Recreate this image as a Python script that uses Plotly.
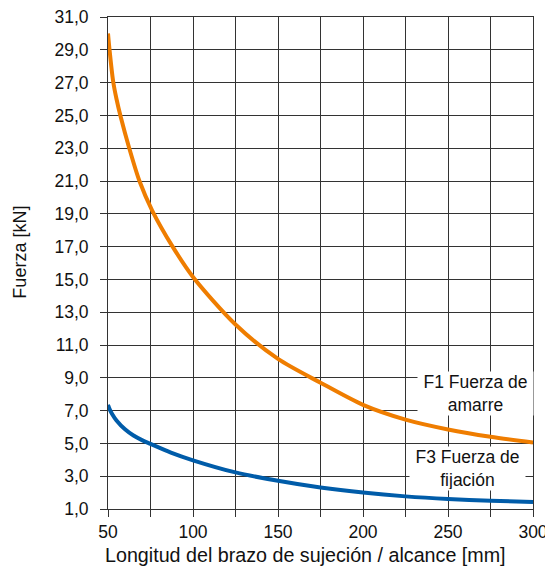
import plotly.graph_objects as go

# --- data ---
f1_x = [50, 51, 53, 55, 57.5, 62.5, 68.5, 76, 88, 100, 125, 150, 175, 200, 225, 250, 275, 300]
f1_y = [30.0, 28.9, 27.1, 26.0, 24.9, 23.0, 21.0, 19.2, 17.0, 15.15, 12.25, 10.15, 8.7, 7.35, 6.45, 5.85, 5.4, 5.05]

f3_x = [50, 51, 52.5, 55, 60, 65, 70, 75, 87, 100, 125, 150, 175, 200, 225, 250, 275, 300]
f3_y = [7.35, 7.08, 6.78, 6.4, 5.86, 5.48, 5.2, 4.97, 4.44, 3.97, 3.23, 2.72, 2.31, 2.0, 1.77, 1.61, 1.5, 1.43]

x_tickvals = [50, 75, 100, 125, 150, 175, 200, 225, 250, 275, 300]
x_ticktext = ["50", "", "100", "", "150", "", "200", "", "250", "", "300"]
y_tickvals = [1, 3, 5, 7, 9, 11, 13, 15, 17, 19, 21, 23, 25, 27, 29, 31]
y_ticktext = ["1,0", "3,0", "5,0", "7,0", "9,0", "11,0", "13,0", "15,0", "17,0",
              "19,0", "21,0", "23,0", "25,0", "27,0", "29,0", "31,0"]

f1_label = "F1 Fuerza de<br>amarre"
f3_label = "F3 Fuerza de<br>fijación"
x_title = "Longitud del brazo de sujeción / alcance [mm]"
y_title = "Fuerza [kN]"

ORANGE = "#EF7D00"
BLUE = "#005CA9"
GRID = "#333333"
TEXT = "#111111"
FONT = "Liberation Sans, Arial, sans-serif"

fig = go.Figure()
fig.add_trace(go.Scatter(x=f1_x, y=f1_y, mode="lines",
                         line=dict(color=ORANGE, width=4, shape="spline", smoothing=0.8),
                         hoverinfo="skip", showlegend=False))
fig.add_trace(go.Scatter(x=f3_x, y=f3_y, mode="lines",
                         line=dict(color=BLUE, width=4, shape="spline", smoothing=0.8),
                         hoverinfo="skip", showlegend=False))

axis_common = dict(showgrid=True, gridcolor=GRID, gridwidth=1,
                   showline=True, linecolor=GRID, linewidth=1, mirror=True,
                   ticks="outside", ticklen=7, tickcolor=GRID, tickwidth=1,
                   zeroline=False, automargin=False, ticklabeloverflow="allow",
                   tickfont=dict(family=FONT, size=17.5, color=TEXT))

fig.update_xaxes(range=[50, 300], tickmode="array", tickvals=x_tickvals,
                 ticktext=x_ticktext, **axis_common)
fig.update_yaxes(range=[1, 31], tickmode="array", tickvals=y_tickvals,
                 ticktext=y_ticktext, ticklabelstandoff=8, **axis_common)

fig.add_annotation(x=266, y=8.05, xref="x", yref="y", text=f1_label, showarrow=False,
                   bgcolor="white", width=113, height=41, align="center",
                   font=dict(family=FONT, size=17.5, color=TEXT))
fig.add_annotation(x=261.4, y=3.49, xref="x", yref="y", text=f3_label, showarrow=False,
                   bgcolor="white", width=113, height=41, align="center",
                   font=dict(family=FONT, size=17.5, color=TEXT))

fig.add_annotation(x=0.465, y=-0.094, xref="paper", yref="paper", text=x_title,
                   showarrow=False, xanchor="center", yanchor="middle",
                   font=dict(family=FONT, size=19.7, color=TEXT))
fig.add_annotation(x=-0.206, y=0.522, xref="paper", yref="paper", text=y_title,
                   showarrow=False, textangle=-90, xanchor="center", yanchor="middle",
                   font=dict(family=FONT, size=18, color=TEXT))

# the page body adds an 8px offset, so margins are shifted accordingly
fig.update_layout(width=553, height=574,
                  margin=dict(l=99.5, r=28, t=9, b=73),
                  paper_bgcolor="white", plot_bgcolor="white",
                  font=dict(family=FONT, size=17.5, color=TEXT))

fig.write_html("out.html")
